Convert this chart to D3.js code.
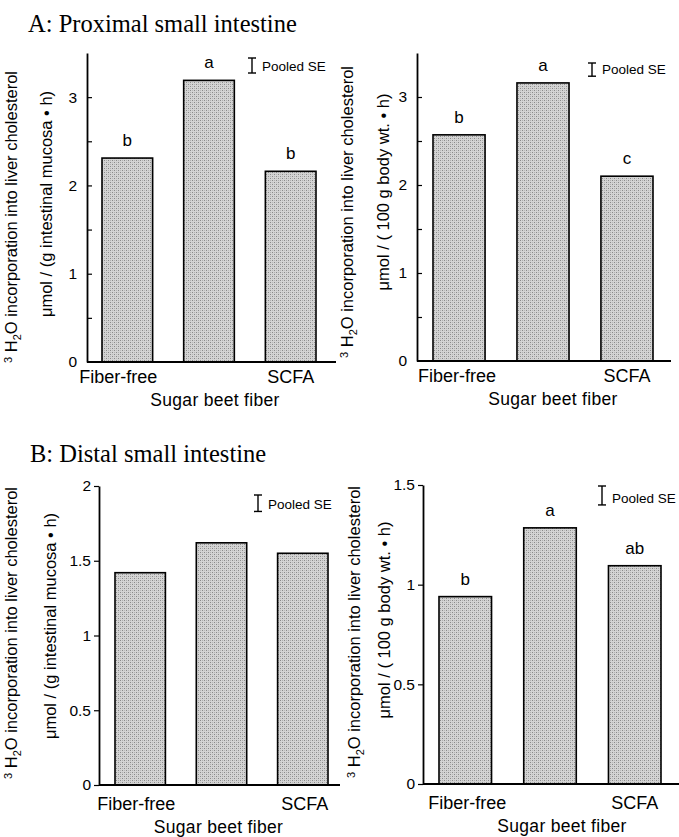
<!DOCTYPE html>
<html>
<head>
<meta charset="utf-8">
<script src="https://cdn.jsdelivr.net/npm/d3@7"></script>
<style>
  body { margin: 0; background: #fff; }
  text { font-family: "Liberation Sans", Arial, Helvetica, sans-serif; fill: #000; }
  .title { font-family: "Liberation Serif", "Times New Roman", serif; font-size: 24.5px; }
</style>
</head>
<body>
<svg id="chart"></svg>
<script>
// categories shown under the bars
var categories = ["Fiber-free", "Sugar beet fiber", "SCFA"];

// 3H2O incorporation values
var proxMucosa = [2.31, 3.19, 2.16];
var proxBody = [2.57, 3.16, 2.10];
var distMucosa = [1.42, 1.62, 1.55];
var distBody = [0.94, 1.285, 1.095];

// significance letters
var proxMucosaLetters = ["b", "a", "b"];
var proxBodyLetters = ["b", "a", "c"];
var distMucosaLetters = ["", "", ""];
var distBodyLetters = ["b", "a", "ab"];

// pooled SE per panel
var pooledSE = [0.17, 0.15, 0.11, 0.095];

// y axis tick values
var proxTicks = [0.5, 1, 1.5, 2, 2.5, 3];
var distMucosaTicks = [0, 0.5, 1, 1.5, 2];
var distBodyTicks = [0, 0.5, 1, 1.5];

var titles = ["A: Proximal small intestine", "B: Distal small intestine"];
var yLine1 = "O incorporation into liver cholesterol";
var yLine2Mucosa = "\u03bcmol / (g intestinal mucosa \u2022 h)";
var yLine2Body = "\u03bcmol / ( 100 g body wt. \u2022 h)";

var config = { w: 679, h: 837 };

var svg = d3.select("#chart")
  .attr("width", config.w)
  .attr("height", config.h);

// stippled grey fill like the printed figure
var defs = svg.append("defs");
var pat = defs.append("pattern")
  .attr("id", "stipple")
  .attr("patternUnits", "userSpaceOnUse")
  .attr("width", 4)
  .attr("height", 4);
pat.append("rect").attr("width", 4).attr("height", 4).attr("fill", "#d4d4d4");
pat.append("rect").attr("x", 0).attr("y", 0).attr("width", 1).attr("height", 1).attr("fill", "#8a8a8a");
pat.append("rect").attr("x", 2).attr("y", 2).attr("width", 1).attr("height", 1).attr("fill", "#8a8a8a");
pat.append("rect").attr("x", 2).attr("y", 0).attr("width", 1).attr("height", 1).attr("fill", "#b0b0b0");
pat.append("rect").attr("x", 0).attr("y", 2).attr("width", 1).attr("height", 1).attr("fill", "#b8b8b8");

// panel layouts (pixels); lx = x nudges for the three category labels
var panels = [
  { values: proxMucosa, letters: proxMucosaLetters, se: pooledSE[0], ticks: proxTicks, max: 3.5,
    ax: 87, top: 53, zero: 362, xEnd: 336, bars: [102, 316], inward: true, lx: [-9, 6, 0],
    line2: yLine2Mucosa, l1: [17, 217], l2: [46, 204], seAt: [252, 58] },
  { values: proxBody, letters: proxBodyLetters, se: pooledSE[1], ticks: proxTicks, max: 3.5,
    ax: 417, top: 53, zero: 361, xEnd: 671, bars: [433, 653], inward: true, lx: [-2, 10, 0],
    line2: yLine2Body, l1: [353, 212], l2: [383, 192], seAt: [592, 63] },
  { values: distMucosa, letters: distMucosaLetters, se: pooledSE[2], ticks: distMucosaTicks, max: 2,
    ax: 99, top: 486, zero: 785, xEnd: 340, bars: [115, 328], inward: false, lx: [-4, -3, 2],
    line2: yLine2Mucosa, l1: [17, 633], l2: [50, 626], seAt: [258, 495] },
  { values: distBody, letters: distBodyLetters, se: pooledSE[3], ticks: distBodyTicks, max: 1.5,
    ax: 423, top: 485, zero: 784, xEnd: 679, bars: [439, 661], inward: false, lx: [2, 12, 0],
    line2: yLine2Body, l1: [360, 632], l2: [384, 620], seAt: [602, 486] }
];

svg.append("text").attr("class", "title").attr("x", 28).attr("y", 32).text(titles[0]);
svg.append("text").attr("class", "title").attr("x", 30).attr("y", 462).text(titles[1]);

panels.forEach(drawPanel);

function fmt(d) {
  if (d === 0) return "0";
  return String(d);
}

function drawPanel(p) {
  var g = svg.append("g");

  var yScale = d3.scaleLinear().domain([0, p.max]).range([p.zero, p.top]);
  var xScale = d3.scaleBand().domain(categories).range(p.bars).paddingInner(0.38).paddingOuter(0);

  // bars
  g.selectAll("rect.bar")
    .data(p.values)
    .enter()
    .append("rect")
      .attr("class", "bar")
      .attr("x", function(d, i) { return xScale(categories[i]); })
      .attr("y", function(d) { return yScale(d); })
      .attr("width", xScale.bandwidth())
      .attr("height", function(d) { return yScale(0) - yScale(d); })
      .attr("fill", "url(#stipple)")
      .attr("stroke", "#000")
      .attr("stroke-width", 1.6);

  // letters over bars
  g.selectAll("text.letter")
    .data(p.values)
    .enter()
    .append("text")
      .attr("class", "letter")
      .attr("x", function(d, i) { return xScale(categories[i]) + xScale.bandwidth() / 2; })
      .attr("y", function(d) { return yScale(d) - 12; })
      .attr("text-anchor", "middle")
      .style("font-size", "17px")
      .text(function(d, i) { return p.letters[i]; });

  // y axis
  var axis = d3.axisLeft(yScale)
    .tickValues(p.ticks)
    .tickSizeOuter(0)
    .tickFormat(function(d) {
      if (p.inward) return Number.isInteger(d) ? fmt(d) : "";
      return fmt(d);
    });
  if (p.inward) {
    axis.tickSizeInner(-5).tickPadding(10);
  } else {
    axis.tickSizeInner(5).tickPadding(3);
  }
  var ag = g.append("g")
    .attr("transform", "translate(" + p.ax + ",0)")
    .call(axis);
  ag.select(".domain").attr("stroke-width", 1.8);
  ag.selectAll(".tick line").attr("stroke-width", 1.2);
  ag.selectAll(".tick text")
    .style("font-family", "\"Liberation Sans\", Arial, sans-serif")
    .style("font-size", "15.5px");

  if (p.inward) {
    // zero label sits at the x axis
    g.append("text")
      .attr("x", p.ax - 10)
      .attr("y", yScale(0))
      .attr("dy", "0.32em")
      .attr("text-anchor", "end")
      .style("font-size", "15.5px")
      .text("0");
  }

  // x axis line
  g.append("line")
    .attr("x1", p.ax).attr("x2", p.xEnd)
    .attr("y1", p.zero).attr("y2", p.zero)
    .attr("stroke", "#000")
    .attr("stroke-width", 1.8);

  // category labels
  var base = p.zero + (p.inward ? 21 : 25);
  [0, 2].forEach(function(i) {
    g.append("text")
      .attr("x", xScale(categories[i]) + xScale.bandwidth() / 2 + p.lx[i])
      .attr("y", base)
      .attr("text-anchor", "middle")
      .style("font-size", "18px")
      .text(categories[i]);
  });
  g.append("text")
    .attr("x", xScale(categories[1]) + xScale.bandwidth() / 2 + p.lx[1])
    .attr("y", base + 23)
    .attr("text-anchor", "middle")
    .style("font-size", "17.5px")
    .style("letter-spacing", "0.3px")
    .text(categories[1]);

  // pooled SE marker
  var seTop = p.seAt[1];
  var seLen = yScale(0) - yScale(p.se);
  var sx = p.seAt[0];
  g.append("line").attr("x1", sx).attr("x2", sx).attr("y1", seTop).attr("y2", seTop + seLen)
    .attr("stroke", "#000").attr("stroke-width", 1.4);
  g.append("line").attr("x1", sx - 4).attr("x2", sx + 4).attr("y1", seTop).attr("y2", seTop)
    .attr("stroke", "#000").attr("stroke-width", 1.4);
  g.append("line").attr("x1", sx - 4).attr("x2", sx + 4).attr("y1", seTop + seLen).attr("y2", seTop + seLen)
    .attr("stroke", "#000").attr("stroke-width", 1.4);
  g.append("text")
    .attr("x", sx + 10)
    .attr("y", seTop + seLen - 2)
    .style("font-size", "13.5px")
    .text("Pooled SE");

  // y label, two rotated lines
  var t1 = g.append("text")
    .attr("transform", "translate(" + p.l1[0] + "," + p.l1[1] + ") rotate(-90)")
    .attr("text-anchor", "middle")
    .attr("dy", "0.35em")
    .style("font-size", "16.5px");
  t1.append("tspan").style("font-size", "11px").attr("dy", "-5").text("3");
  t1.append("tspan").attr("dy", "5").text(" H");
  t1.append("tspan").style("font-size", "11px").attr("dy", "4").text("2");
  t1.append("tspan").attr("dy", "-4").text(yLine1);

  g.append("text")
    .attr("transform", "translate(" + p.l2[0] + "," + p.l2[1] + ") rotate(-90)")
    .attr("text-anchor", "middle")
    .attr("dy", "0.35em")
    .style("font-size", "16.5px")
    .text(p.line2);
}
</script>
</body>
</html>
